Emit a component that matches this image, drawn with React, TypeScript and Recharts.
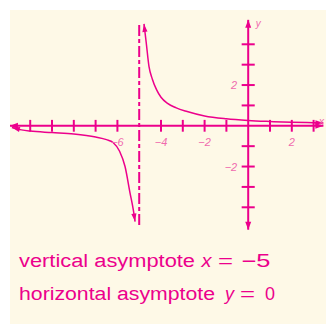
import React from "react";
import { LineChart, Line, XAxis, YAxis, ReferenceLine, ReferenceDot } from "recharts";

// ---- data ----
const lowerX = [-10.84, -10.4, -10, -9, -8, -7, -6.5, -6.2, -5.9, -5.65, -5.42, -5.27, -5.19];
const lowerY = [-0.08, -0.2, -0.26, -0.33, -0.4, -0.55, -0.68, -0.82, -1.25, -2.0, -3.3, -4.13, -4.7];
const upperX = [-4.78, -4.68, -4.55, -4.4, -4.2, -4.0, -3.7, -3.3, -2.8, -2.0, -1.0, 0, 1, 2, 3, 3.45];
const upperY = [5.0, 4.1, 2.9, 2.3, 1.76, 1.4, 1.1, 0.88, 0.7, 0.48, 0.34, 0.26, 0.21, 0.17, 0.15, 0.14];

const xTicks = [-10, -9, -8, -7, -6, -4, -3, -2, -1, 1, 2, 3];
const yTicks = [-4, -3, -2, -1, 1, 2, 3, 4];
const xTickLabels = [
  { v: -6, t: "\u22126" },
  { v: -4, t: "\u22124" },
  { v: -2, t: "\u22122" },
  { v: 2, t: "2" },
];
const yTickLabels = [
  { v: 2, t: "2" },
  { v: -2, t: "\u22122" },
];
const asymptoteX = -5;
const xAxisRange = [-10.93, 3.45];
const yAxisRange = [-5.1, 5.2];
const asymptoteRange = [-4.87, 5.07];
const xDomain = [-10.927, 3.569];
const yDomain = [-5.605, 5.683];

const lowerData = lowerX.map((x, i) => ({ x, y: lowerY[i] }));
const upperData = upperX.map((x, i) => ({ x, y: upperY[i] }));

const MAG = "#EC008C";
const LIGHT = "#F06AAE";
const CREAM = "#FEF9E7";
const FONT = "'Liberation Sans', Arial, sans-serif";

function arrowHead(x1: number, y1: number, x2: number, y2: number, len: number, half: number, color: string) {
  const dx = x2 - x1;
  const dy = y2 - y1;
  const d = Math.sqrt(dx * dx + dy * dy) || 1;
  const ux = dx / d;
  const uy = dy / d;
  const bx = x2 - ux * len;
  const by = y2 - uy * len;
  const px = -uy * half;
  const py = ux * half;
  return (
    <polygon
      points={`${x2},${y2} ${bx + px},${by + py} ${bx - px},${by - py}`}
      fill={color}
      stroke="none"
    />
  );
}

const axisShape = (p: any) => (
  <g>
    <line x1={p.x1} y1={p.y1} x2={p.x2} y2={p.y2} stroke={MAG} strokeWidth={2} />
    {arrowHead(p.x2, p.y2, p.x1, p.y1, 8, 3, MAG)}
    {arrowHead(p.x1, p.y1, p.x2, p.y2, 8, 3, MAG)}
  </g>
);

const curveArrowShape = (p: any) => <g>{arrowHead(p.x1, p.y1, p.x2, p.y2, 8, 2.6, MAG)}</g>;

const xLabelShape = (text: string) => (p: any) => (
  <text x={p.cx} y={p.cy + 20} textAnchor="middle" fontSize={11} fontStyle="italic" fontFamily={FONT} fill={LIGHT}>
    {text}
  </text>
);
const yLabelShape = (text: string) => (p: any) => (
  <text x={p.cx - 11} y={p.cy + 4} textAnchor="end" fontSize={11} fontStyle="italic" fontFamily={FONT} fill={LIGHT}>
    {text}
  </text>
);
const nameShape = (text: string, dx: number, dy: number) => (p: any) => (
  <text x={p.cx + dx} y={p.cy + dy} textAnchor="middle" fontSize={10} fontStyle="italic" fontFamily={FONT} fill={LIGHT}>
    {text}
  </text>
);

const TICK_HX = 0.3;
const TICK_HY = 0.29;

export default function App() {
  const nL = lowerX.length;
  return (
    <div style={{ position: "absolute", left: 10, top: 10, width: 316, height: 314, background: CREAM }}>
      <LineChart width={316} height={230} margin={{ top: 0, right: 0, bottom: 0, left: 0 }}>
        <XAxis type="number" dataKey="x" domain={xDomain} hide allowDataOverflow />
        <YAxis type="number" dataKey="y" domain={yDomain} hide allowDataOverflow />
        {xTicks.map((v) => (
          <ReferenceLine
            key={"xt" + v}
            segment={[{ x: v, y: -TICK_HY }, { x: v, y: TICK_HY }]}
            stroke={MAG}
            strokeWidth={2}
            ifOverflow="visible"
          />
        ))}
        {yTicks.map((v) => (
          <ReferenceLine
            key={"yt" + v}
            segment={[{ x: -TICK_HX, y: v }, { x: TICK_HX, y: v }]}
            stroke={MAG}
            strokeWidth={2}
            ifOverflow="visible"
          />
        ))}
        <ReferenceLine
          segment={[{ x: xAxisRange[0], y: 0 }, { x: xAxisRange[1], y: 0 }]}
          shape={axisShape}
          ifOverflow="visible"
        />
        <ReferenceLine
          segment={[{ x: 0, y: yAxisRange[0] }, { x: 0, y: yAxisRange[1] }]}
          shape={axisShape}
          ifOverflow="visible"
        />
        <ReferenceLine
          segment={[{ x: asymptoteX, y: asymptoteRange[0] }, { x: asymptoteX, y: asymptoteRange[1] }]}
          stroke={MAG}
          strokeWidth={2}
          strokeDasharray="11 3 4 3"
          ifOverflow="visible"
        />
        <Line data={lowerData} dataKey="y" type="monotone" stroke={MAG} strokeWidth={1.5} dot={false} isAnimationActive={false} />
        <Line data={upperData} dataKey="y" type="monotone" stroke={MAG} strokeWidth={1.5} dot={false} isAnimationActive={false} />
        <ReferenceLine
          segment={[{ x: lowerX[1], y: lowerY[1] }, { x: lowerX[0], y: lowerY[0] }]}
          shape={curveArrowShape}
          ifOverflow="visible"
        />
        <ReferenceLine
          segment={[{ x: lowerX[nL - 2], y: lowerY[nL - 2] }, { x: lowerX[nL - 1], y: lowerY[nL - 1] }]}
          shape={curveArrowShape}
          ifOverflow="visible"
        />
        <ReferenceLine
          segment={[{ x: upperX[1], y: upperY[1] }, { x: upperX[0], y: upperY[0] }]}
          shape={curveArrowShape}
          ifOverflow="visible"
        />
        <ReferenceLine
          segment={[
            { x: upperX[upperX.length - 2], y: upperY[upperY.length - 2] },
            { x: upperX[upperX.length - 1], y: upperY[upperY.length - 1] },
          ]}
          shape={curveArrowShape}
          ifOverflow="visible"
        />
        {xTickLabels.map((l) => (
          <ReferenceDot key={"xl" + l.v} x={l.v} y={0} r={0} shape={xLabelShape(l.t)} ifOverflow="visible" />
        ))}
        {yTickLabels.map((l) => (
          <ReferenceDot key={"yl" + l.v} x={0} y={l.v} r={0} shape={yLabelShape(l.t)} ifOverflow="visible" />
        ))}
        <ReferenceDot x={0} y={yAxisRange[1]} r={0} shape={nameShape("y", 10, 7)} ifOverflow="visible" />
        <ReferenceDot x={xAxisRange[1]} y={0} r={0} shape={nameShape("x", -2, -1)} ifOverflow="visible" />
      </LineChart>
      <svg width={316} height={84} style={{ position: "absolute", left: 0, top: 230 }}>
        <g fontFamily={FONT} fontSize={18} fill={MAG}>
          <text x={9} y={27} textLength={176} lengthAdjust="spacingAndGlyphs">vertical asymptote</text>
          <text x={191.5} y={27} textLength={10} lengthAdjust="spacingAndGlyphs" fontStyle="italic">x</text>
          <text x={208} y={27} textLength={15} lengthAdjust="spacingAndGlyphs">=</text>
          <text x={231.5} y={27} textLength={29} lengthAdjust="spacingAndGlyphs">{"\u22125"}</text>
          <text x={9} y={60} textLength={196} lengthAdjust="spacingAndGlyphs">horizontal asymptote</text>
          <text x={215} y={60} textLength={9} lengthAdjust="spacingAndGlyphs" fontStyle="italic">y</text>
          <text x={230} y={60} textLength={15} lengthAdjust="spacingAndGlyphs">=</text>
          <text x={255} y={60} textLength={10} lengthAdjust="spacingAndGlyphs">0</text>
        </g>
      </svg>
    </div>
  );
}
